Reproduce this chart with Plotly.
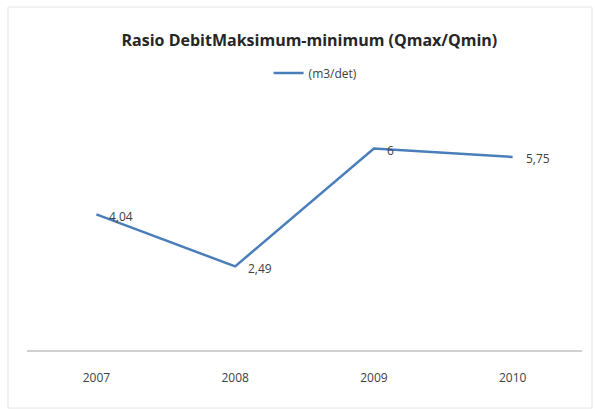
import plotly.graph_objects as go

years = ["2007", "2008", "2009", "2010"]
ratio = [4.04, 2.49, 6.0, 5.75]
labels = ["4,04", "2,49", "6", "5,75"]

fig = go.Figure()
fig.add_trace(go.Scatter(
    x=years, y=ratio, mode="lines", name="(m3/det)",
    line=dict(color="#4a7ebb", width=2.5),
))

for i, (v, lab) in enumerate(zip(ratio, labels)):
    fig.add_annotation(x=i, y=v, text=lab, showarrow=False,
                       xanchor="left", yanchor="middle", xshift=11, yshift=-2,
                       font=dict(family="Open Sans", size=12, color="#404040"))

fig.update_layout(
    width=595, height=409,
    margin=dict(l=27, r=13, t=115, b=59),
    paper_bgcolor="white", plot_bgcolor="white",
    title=dict(text="<b>Rasio DebitMaksimum-minimum (Qmax/Qmin)</b>",
               x=0.52, xanchor="center", y=1 - 40/409, yanchor="middle",
               font=dict(family="Open Sans", size=16, color="#262626")),
    showlegend=True,
    legend=dict(orientation="h", x=0.52, xanchor="center", y=1 + 42/235, yanchor="middle",
                font=dict(family="Open Sans", size=12, color="#404040"),
                bgcolor="rgba(0,0,0,0)"),
    xaxis=dict(type="category", range=[-0.5, 3.5], showgrid=False, showline=True,
               linecolor="#d0d0d0", linewidth=2,
               ticks="", ticklabelstandoff=16,
               tickfont=dict(family="Open Sans", size=12, color="#404040")),
    yaxis=dict(range=[0, 7], visible=False),
    shapes=[dict(type="rect", xref="paper", yref="paper",
                 x0=-19/555, x1=565/555, y0=-58/235, y1=1 + 108/235,
                 line=dict(color="#e4e4e4", width=1))],
)

fig.write_html("out.html")
